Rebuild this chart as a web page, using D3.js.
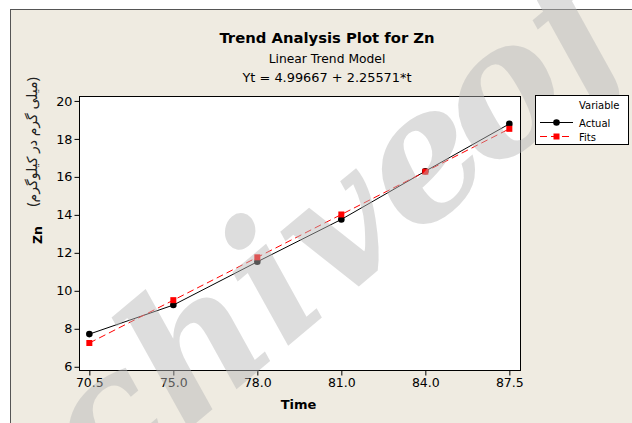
<!DOCTYPE html>
<html><head><meta charset="utf-8">
<script src="https://cdn.jsdelivr.net/npm/d3@7"></script>
<style>body{margin:0;background:#fff}svg{display:block}</style>
</head><body>
<script>
const timeLabels = ["70.5","75.0","78.0","81.0","84.0","87.5"];
const tIndex = [1,2,3,4,5,6];
const actual = [7.72, 9.25, 11.53, 13.76, 16.30, 18.79];
const fits = [7.252, 9.508, 11.764, 14.020, 16.275, 18.531];
const yTicks = [6,8,10,12,14,16,18,20];

const W = 632, H = 423;
const svg = d3.select("body").append("svg").attr("width", W).attr("height", H);
const FONT = "DejaVu Sans, Verdana, sans-serif";

// outer frame
svg.append("rect").attr("x",10.5).attr("y",9.5).attr("width",W).attr("height",H)
  .attr("fill","#efebe1").attr("stroke","#555").attr("stroke-width",1);

const L = 79, R = 520, T = 96, B = 370;
const x = d3.scaleLinear().domain([0.877, 6.127]).range([L, R]);
const y = d3.scaleLinear().domain([5.83, 20.26]).range([B, T]);

svg.append("rect").attr("x",L+0.5).attr("y",T+0.5).attr("width",R-L).attr("height",B-T)
  .attr("fill","#fff").attr("stroke","#000");

// titles
const cx = 327;
svg.append("text").attr("x",cx).attr("y",42.5).attr("text-anchor","middle")
  .attr("font-family",FONT).attr("font-weight","bold").attr("font-size",14.8).text("Trend Analysis Plot for Zn");
svg.append("text").attr("x",cx).attr("y",62.5).attr("text-anchor","middle")
  .attr("font-family",FONT).attr("font-size",12.3).text("Linear Trend Model");
svg.append("text").attr("x",cx).attr("y",82).attr("text-anchor","middle")
  .attr("font-family",FONT).attr("font-size",12.9).text("Yt = 4.99667 + 2.25571*t");

// axes
const yAxis = d3.axisLeft(y).tickValues(yTicks).tickSize(5).tickPadding(2).tickFormat(d3.format("d"));
const gy = svg.append("g").attr("transform",`translate(${L+0.5},0)`).call(yAxis);
gy.select(".domain").remove();
gy.selectAll("text").attr("font-family",FONT).attr("font-size",12.8).attr("fill","#000");

const xAxis = d3.axisBottom(x).tickValues(tIndex).tickSize(5).tickPadding(3).tickFormat((d,i)=>timeLabels[i]);
const gx = svg.append("g").attr("transform",`translate(0,${B+0.5})`).call(xAxis);
gx.select(".domain").remove();
gx.selectAll("text").attr("font-family",FONT).attr("font-size",12.5).attr("fill","#000");

svg.append("text").attr("x",298.5).attr("y",408.5).attr("text-anchor","middle")
  .attr("font-family",FONT).attr("font-weight","bold").attr("font-size",13).text("Time");
svg.append("text").attr("transform","translate(41.5,235) rotate(-90)").attr("text-anchor","middle")
  .attr("font-family",FONT).attr("font-weight","bold").attr("font-size",12.5).text("Zn");
svg.append("text").attr("transform","translate(37,142) rotate(-90)").attr("text-anchor","middle")
  .attr("font-family","Noto Sans, DejaVu Sans, sans-serif").attr("font-size",14).attr("direction","rtl")
  .attr("fill","#222")
  .text("(میلی گرم در کیلوگرم)");

// lines
const data = tIndex.map((t,i)=>({t, a: actual[i], f: fits[i]}));
const lineA = d3.line().x(d=>x(d.t)).y(d=>y(d.a));
const lineF = d3.line().x(d=>x(d.t)).y(d=>y(d.f));
svg.append("path").datum(data).attr("d",lineA).attr("fill","none").attr("stroke","#000").attr("stroke-width",1);
svg.append("path").datum(data).attr("d",lineF).attr("fill","none").attr("stroke","#ff0000").attr("stroke-width",1).attr("stroke-dasharray","7,4");
svg.selectAll(".ma").data(data).enter().append("circle").attr("cx",d=>x(d.t)).attr("cy",d=>y(d.a)).attr("r",3.3).attr("fill","#000");
svg.selectAll(".mf").data(data).enter().append("rect").attr("x",d=>x(d.t)-3).attr("y",d=>y(d.f)-3).attr("width",6).attr("height",6).attr("fill","#ff0000");

// watermark
const wm = {fs:178, ang:-40};
const dx = Math.cos(wm.ang*Math.PI/180), dy = Math.sin(wm.ang*Math.PI/180);
function wmText(str, px, py){
  return svg.append("text").attr("transform",`translate(${px},${py}) rotate(${wm.ang})`)
    .attr("font-family","DejaVu Serif, serif").attr("font-weight","bold").attr("font-style","italic")
    .attr("font-size",wm.fs).attr("fill","rgb(182,182,182)").attr("fill-opacity",0.47).text(str);
}
const tmp = wmText("Archive of SID",0,0).attr("visibility","hidden");
const wFull = tmp.node().getComputedTextLength(); tmp.remove();
const sx = 455 - wFull/2*dx + 20, sy = 179 - wFull/2*dy + 10;
const t1 = wmText("Archive", sx, sy);
const wA = t1.node().getComputedTextLength();
wmText("of SID", sx + (wA-14)*dx, sy + (wA-14)*dy);

// legend (drawn above watermark)
const lg = svg.append("g");
lg.append("rect").attr("x",535.5).attr("y",95.5).attr("width",93).attr("height",49).attr("fill","#fff").attr("stroke","#000");
lg.append("text").attr("x",619.5).attr("y",109).attr("text-anchor","end").attr("font-family",FONT).attr("font-size",10).text("Variable");
lg.append("line").attr("x1",540).attr("x2",573).attr("y1",122.5).attr("y2",122.5).attr("stroke","#000");
lg.append("circle").attr("cx",556.5).attr("cy",122.5).attr("r",3.3).attr("fill","#000");
lg.append("text").attr("x",579).attr("y",126.5).attr("font-family",FONT).attr("font-size",10).text("Actual");
lg.append("line").attr("x1",540).attr("x2",573).attr("y1",136.5).attr("y2",136.5).attr("stroke","#ff0000").attr("stroke-dasharray","7,4");
lg.append("rect").attr("x",553.5).attr("y",133.5).attr("width",6).attr("height",6).attr("fill","#ff0000");
lg.append("text").attr("x",579).attr("y",140.5).attr("font-family",FONT).attr("font-size",10).text("Fits");
</script>
</body></html>
